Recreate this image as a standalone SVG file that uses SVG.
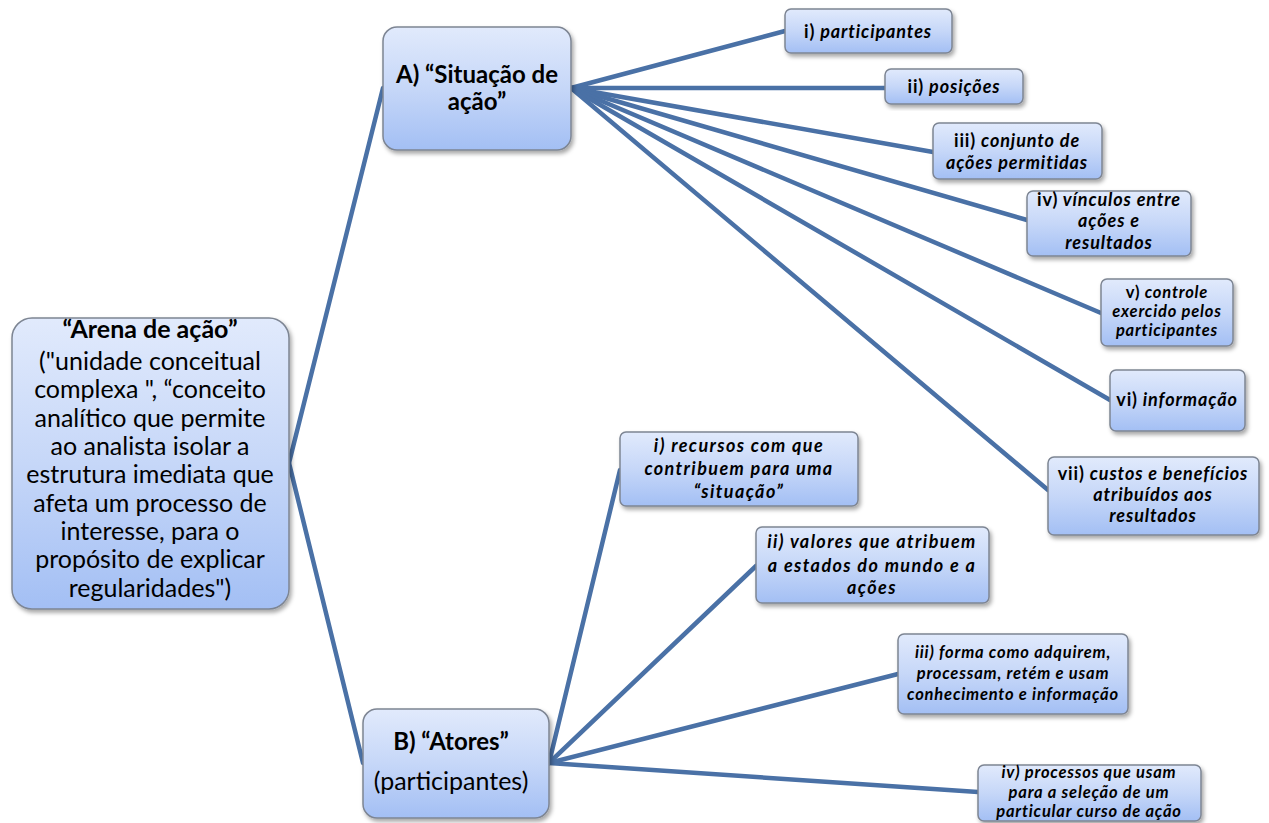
<svg xmlns="http://www.w3.org/2000/svg" width="1269" height="823" viewBox="0 0 1269 823">
<defs>
<linearGradient id="g" x1="0" y1="0" x2="0" y2="1">
<stop offset="0" stop-color="#e1eafc"/>
<stop offset="0.5" stop-color="#c6d7f8"/>
<stop offset="1" stop-color="#a3bff4"/>
</linearGradient>
<filter id="sh" x="-10%" y="-10%" width="130%" height="130%">
<feDropShadow dx="2" dy="3" stdDeviation="2" flood-color="#000" flood-opacity="0.35"/>
</filter>
</defs>
<style>
.box{fill:url(#g);stroke:#7d8593;stroke-width:1.5;filter:url(#sh)}
.c{stroke:#4a71a6;stroke-width:4.5;fill:none;stroke-linecap:round}
text{font-family:Lato,"Liberation Sans",sans-serif;fill:#000;text-anchor:middle}
.m{font-size:25px}
.mb{font-size:25px;font-weight:bold}
.ab{font-size:24px;font-weight:bold}
.s{font-size:18px;font-weight:bold;font-style:italic;letter-spacing:0.9px}
.sw{font-size:18px;font-weight:bold;font-style:italic;letter-spacing:1.4px}
.s2{font-size:16.5px;font-weight:bold;font-style:italic;letter-spacing:0.8px}
.u{font-style:normal}
</style>
<g id="connectors">
<line class="c" x1="289" y1="463" x2="383" y2="88"/>
<line class="c" x1="289" y1="463" x2="363" y2="763"/>
<line class="c" x1="571" y1="88" x2="785" y2="31"/>
<line class="c" x1="571" y1="88" x2="885" y2="88"/>
<line class="c" x1="571" y1="88" x2="933" y2="152"/>
<line class="c" x1="571" y1="88" x2="1027" y2="220"/>
<line class="c" x1="571" y1="88" x2="1101" y2="313"/>
<line class="c" x1="571" y1="88" x2="1110" y2="400"/>
<line class="c" x1="571" y1="88" x2="1048" y2="490"/>
<line class="c" x1="549" y1="763" x2="620" y2="470"/>
<line class="c" x1="549" y1="763" x2="756" y2="566"/>
<line class="c" x1="549" y1="763" x2="898" y2="674"/>
<line class="c" x1="549" y1="763" x2="978" y2="792"/>
</g>
<g id="arena">
<rect class="box" x="12" y="318" width="277" height="291" rx="20"/>
<text class="mb" x="150" y="338">“Arena de ação”</text>
<text class="m" x="150" y="370">("unidade conceitual</text>
<text class="m" x="150" y="398">complexa ", “conceito</text>
<text class="m" x="150" y="427">analítico que permite</text>
<text class="m" x="150" y="455">ao analista isolar a</text>
<text class="m" x="150" y="483">estrutura imediata que</text>
<text class="m" x="150" y="512">afeta um processo de</text>
<text class="m" x="150" y="540">interesse, para o</text>
<text class="m" x="150" y="568">propósito de explicar</text>
<text class="m" x="150" y="597">regularidades")</text>
</g>
<g id="situacao">
<rect class="box" x="383" y="27" width="188" height="123" rx="14"/>
<text class="ab" x="477" y="83">A) “Situação de</text>
<text class="ab" x="477" y="110">ação”</text>
</g>
<g id="atores">
<rect class="box" x="363" y="709" width="186" height="109" rx="14"/>
<text class="ab" x="451" y="750">B) “Atores”</text>
<text class="m" x="451" y="790">(participantes)</text>
</g>
<g id="a1">
<rect class="box" x="785" y="9" width="167" height="44" rx="6"/>
<text class="s" x="868" y="38"><tspan class="u">i)</tspan> participantes</text>
</g>
<g id="a2">
<rect class="box" x="885" y="69" width="138" height="35" rx="6"/>
<text class="s" x="954" y="93"><tspan class="u">ii)</tspan> posições</text>
</g>
<g id="a3">
<rect class="box" x="933" y="123" width="169" height="56" rx="6"/>
<text class="s" x="1017" y="147"><tspan class="u">iii)</tspan> conjunto  de</text>
<text class="s" x="1017" y="169">ações permitidas</text>
</g>
<g id="a4">
<rect class="box" x="1027" y="191" width="164" height="65" rx="6"/>
<text class="s" x="1109" y="206"><tspan class="u">iv)</tspan> vínculos entre</text>
<text class="s" x="1109" y="227">ações e</text>
<text class="s" x="1109" y="249">resultados</text>
</g>
<g id="a5">
<rect class="box" x="1101" y="279" width="132" height="67" rx="6"/>
<text class="s2" x="1167" y="298"><tspan class="u">v)</tspan> controle</text>
<text class="s2" x="1167" y="317">exercido pelos</text>
<text class="s2" x="1167" y="336">participantes</text>
</g>
<g id="a6">
<rect class="box" x="1110" y="370" width="135" height="61" rx="6"/>
<text class="s" x="1177" y="406"><tspan class="u">vi)</tspan> informação</text>
</g>
<g id="a7">
<rect class="box" x="1048" y="457" width="211" height="78" rx="6"/>
<text class="s" x="1153" y="480"><tspan class="u">vii)</tspan> custos e benefícios</text>
<text class="s" x="1153" y="501">atribuídos aos</text>
<text class="s" x="1153" y="522">resultados</text>
</g>
<g id="b1">
<rect class="box" x="620" y="432" width="238" height="74" rx="6"/>
<text class="sw" x="739" y="452">i) recursos com que</text>
<text class="sw" x="739" y="475">contribuem para uma</text>
<text class="sw" x="739" y="498">“situação”</text>
</g>
<g id="b2">
<rect class="box" x="756" y="527" width="233" height="76" rx="6"/>
<text class="sw" x="872" y="548">ii) valores que atribuem</text>
<text class="sw" x="872" y="572">a estados do mundo e a</text>
<text class="sw" x="872" y="594">ações</text>
</g>
<g id="b3">
<rect class="box" x="898" y="634" width="230" height="80" rx="6"/>
<text class="s2" x="1013" y="658">iii) forma como adquirem,</text>
<text class="s2" x="1013" y="679">processam, retém e usam</text>
<text class="s2" x="1013" y="700">conhecimento e informação</text>
</g>
<g id="b4">
<rect class="box" x="978" y="765" width="223" height="56" rx="6"/>
<text class="s2" x="1089" y="778">iv) processos que usam</text>
<text class="s2" x="1089" y="798">para a seleção de um</text>
<text class="s2" x="1089" y="817">particular curso de ação</text>
</g>
</svg>
